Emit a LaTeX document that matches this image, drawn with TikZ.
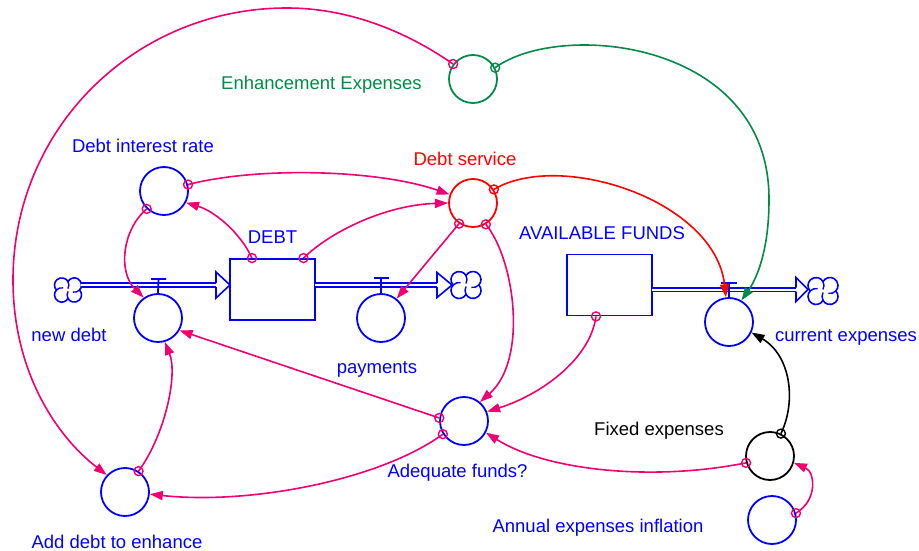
\documentclass[tikz,border=0pt]{standalone}
\usepackage{fontspec}
\setmainfont{Liberation Sans}
\usetikzlibrary{arrows.meta}
\definecolor{sdblue}{RGB}{0,0,255}
\definecolor{sdpink}{RGB}{240,0,115}
\definecolor{sdred}{RGB}{255,0,0}
\definecolor{sdgreen}{RGB}{0,140,70}
\tikzset{
  aux/.style={circle, draw, line width=1.8pt, minimum size=48pt, inner sep=0pt},
  stock/.style={rectangle, draw=sdblue, line width=1.8pt, minimum width=85pt, minimum height=61pt, inner sep=0pt},
  lbl/.style={anchor=base, font=\fontsize{18.5}{22}\selectfont, inner sep=0pt},
  link/.style={line width=1.6pt, -{Triangle[length=13pt,width=9pt]}},
  tapmark/.style={line width=1.4pt},
  pipe/.style={draw=sdblue, line width=1.6pt, double=white, double distance=2pt},
  pipehead/.style={draw=sdblue, line width=1.6pt, line join=miter},
  valvebar/.style={draw=sdblue, line width=1.8pt},
  cloudicon/.pic={
    \draw[sdblue, line width=1.6pt]
      (-12.81,0) arc[start angle=223.4, end angle=28.9, radius=8]
      arc[start angle=151.1, end angle=-43.4, radius=8]
      arc[start angle=43.4, end angle=-151.1, radius=8]
      arc[start angle=-28.9, end angle=-223.4, radius=8] -- cycle;
    \draw[sdblue, line width=1.4pt]
      (0,9.37) arc[start angle=28.9, end angle=-30, radius=8]
      (12.81,0) arc[start angle=-43.4, end angle=-102, radius=8]
      (0,-9.37) arc[start angle=-151.1, end angle=-210, radius=8]
      (-12.81,0) arc[start angle=136.6, end angle=78, radius=8];
  }
}
\begin{document}
\begin{tikzpicture}[x=1pt, y=1pt]
\useasboundingbox (0,0) rectangle (919,-551);

% sources and sinks
\pic[scale=0.9] at (68,-290) {cloudicon};
\pic at (466,-285) {cloudicon};
\pic at (823,-291) {cloudicon};
\coordinate (srcL) at (81,-285);
\coordinate (sinkM) at (437,-285);
\coordinate (sinkR) at (796,-289.5);

% stocks
\node[stock] (debt) at (272.5,-289.5) {};
\node[stock] (funds) at (609.5,-285) {};
\coordinate (debtL) at ([xshift=-20.5pt]debt.north);
\coordinate (debtR) at ([xshift=31pt]debt.north);
\coordinate (fundsB) at ([xshift=-13.5pt]funds.south);

% flow pipes with hollow heads
\draw[pipe] (srcL) -- (216,-285);
\draw[pipehead] (216,-283) -- (216,-272) -- (230,-285) -- (216,-298) -- (216,-287);
\draw[pipe] (315,-285) -- (sinkM);
\draw[pipehead] (437,-283) -- (437,-272.5) -- (452,-285) -- (437,-297.5) -- (437,-287);
\draw[pipe] (652,-289.5) -- (sinkR);
\draw[pipehead] (796,-287.5) -- (796,-277.5) -- (808,-289.5) -- (796,-301.5) -- (796,-291.5);

% auxiliaries
\node[aux, draw=sdblue] (nd) at (158,-318) {};
\node[aux, draw=sdblue] (pay) at (381,-318) {};
\node[aux, draw=sdblue] (ce) at (729,-322) {};
\node[aux, draw=sdblue] (dir) at (164,-191) {};
\node[aux, draw=sdred] (ds) at (473,-203) {};
\node[aux, draw=sdgreen] (enh) at (473,-79) {};
\node[aux, draw=sdblue] (adq) at (464,-421) {};
\node[aux, draw=black] (fe) at (770,-456) {};
\node[aux, draw=sdblue] (aei) at (772,-520) {};
\node[aux, draw=sdblue] (ade) at (125,-492) {};

% valves
\draw[valvebar] (151,-279) -- (166,-279) (158.5,-279) -- (nd.north);
\draw[valvebar] (373.5,-278) -- (388.5,-278) (381,-278) -- (pay.north);
\draw[valvebar] (721,-283) -- (737,-283) (729,-283) -- (ce.north);

% labels
\node[lbl, text=sdgreen] (tEnh) at (321.5,-90) {Enhancement Expenses};
\node[lbl, text=sdblue] (tDir) at (143,-152) {Debt interest rate};
\node[lbl, text=sdred] (tDs) at (465,-165) {Debt service};
\node[lbl, text=sdblue] (tDebt) at (272.5,-243) {DEBT};
\node[lbl, text=sdblue] (tFunds) at (602,-239) {AVAILABLE FUNDS};
\node[lbl, text=sdblue] (tNd) at (69,-341) {new debt};
\node[lbl, text=sdblue] (tPay) at (377,-373) {payments};
\node[lbl, text=sdblue] (tCe) at (846,-341) {current expenses};
\node[lbl, text=sdblue] (tAdq) at (457.5,-477) {Adequate funds?};
\node[lbl, text=black] (tFe) at (659,-435) {Fixed expenses};
\node[lbl, text=sdblue] (tAei) at (598,-532) {Annual expenses inflation};
\node[lbl, text=sdblue] (tAde) at (117,-548) {Add debt to enhance};

% information links
\draw[link, sdpink] (debtL) .. controls (240,-232) and (214,-211) .. (dir.-28);
\draw[link, sdpink] (dir.-134) .. controls (122,-230) and (118,-272) .. (nd.125);
\draw[link, sdpink] (dir.15) .. controls (260,-166) and (380,-170) .. (ds.160);
\draw[link, sdpink] (debtR) .. controls (330,-232) and (385,-205) .. (ds.180);
\draw[link, sdpink] (ds.-124) -- (pay.51);
\draw[link, sdpink] (ds.-59) .. controls (515,-260) and (528,-360) .. (adq.50);
\draw[link, sdpink] (fundsB) .. controls (590,-360) and (540,-395) .. (adq.22);
\draw[link, sdred] (ds.33) .. controls (560,-150) and (715,-200) .. (ce.97);
\draw[link, sdgreen] (enh.27) .. controls (560,-20) and (770,-40) .. (769,-200)
  .. controls (769,-250) and (757,-278) .. (ce.60);
\draw[link, sdpink] (enh.143) .. controls (404,-30) and (347,-8) .. (287,-8)
  .. controls (135,-8) and (13,-128) .. (13,-280)
  .. controls (13,-370) and (55,-435) .. (ade.137);
\draw[link, sdpink] (ade.57) .. controls (165,-435) and (178,-375) .. (nd.-74);
\draw[link, sdpink] (adq.173) -- (nd.-30);
\draw[link, sdpink] (adq.-148) .. controls (380,-480) and (250,-505) .. (ade.-5);
\draw[link, sdpink] (fe.-164) .. controls (650,-482) and (545,-470) .. (adq.-28);
\draw[link, black] (fe.64) .. controls (797,-400) and (790,-355) .. (ce.-25);
\draw[link, sdpink] (aei.16) .. controls (818,-500) and (815,-472) .. (fe.-16);

% link origin markers
\foreach \p in {debtL, debtR, fundsB, dir.-134, dir.15, ds.-124, ds.-59, enh.143,
                ade.57, adq.173, adq.-148, fe.-164, aei.16}
  \draw[tapmark, sdpink] (\p) circle (4.5pt);
\draw[tapmark, sdred] (ds.33) circle (4.5pt);
\draw[tapmark, sdgreen] (enh.27) circle (4.5pt);
\draw[tapmark, black] (fe.64) circle (4.5pt);
\end{tikzpicture}
\end{document}
